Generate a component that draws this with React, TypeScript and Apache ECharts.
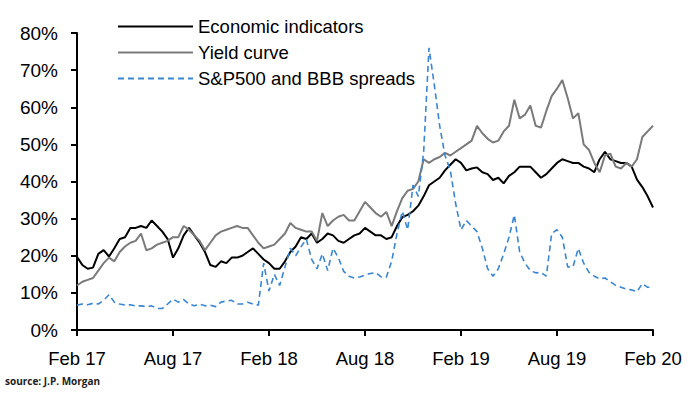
import React, { useEffect, useRef } from "react";
import * as echarts from "echarts";

// Sample dates, three per month (1st, 11th, 21st) from Feb 2017 to Feb 2020
const MONTHS = ["Jan", "Feb", "Mar", "Apr", "May", "Jun", "Jul", "Aug", "Sep", "Oct", "Nov", "Dec"];
const SAMPLE_DAYS = ["01", "11", "21"];
const categories: string[] = [];
for (let i = 0; i <= 108; i++) {
  const m = 1 + Math.floor(i / 3);
  const year = 2017 + Math.floor(m / 12);
  const mm = String((m % 12) + 1).padStart(2, "0");
  categories.push(`${year}-${mm}-${SAMPLE_DAYS[i % 3]}`);
}

const economicIndicators = [
  19.7, 17.5, 16.5, 16.8, 20.5, 21.5, 19.8, 22, 24.5, 25,
  27.5, 27.5, 28, 27.5, 29.5, 28, 26.5, 24.5, 19.5, 22,
  25.5, 27.5, 25.5, 23.5, 21, 17.5, 17, 18.5, 18, 19.5,
  19.5, 20, 21, 22, 20.5, 19, 18, 16.5, 16.5, 18.5,
  21, 22.5, 25, 24.5, 26, 23.5, 24.5, 26, 25.5, 24,
  23.5, 24.5, 25.5, 26, 27.5, 26.5, 25.5, 25.5, 24.5, 25,
  28, 30.4, 31, 32, 33.5, 36, 39, 40, 41, 43,
  44.5, 46, 45, 43, 43.5, 43.8, 42.5, 42, 40.4, 41,
  39.5, 41.5, 42.5, 44, 44, 44, 42.5, 41, 42, 43.5,
  45, 46, 45.5, 45, 45, 44, 43.5, 42.5, 46, 48,
  46, 45.5, 45, 45, 44, 40.5, 38.5, 36, 33,
];

const yieldCurve = [
  12, 13, 13.5, 14, 16, 18, 19.5, 18.5, 21, 22.5,
  23.5, 24, 26, 21.5, 22, 23, 23.5, 24, 25, 25,
  28, 27, 25.5, 24, 21.5, 23.5, 25.5, 26.5, 27, 27.5,
  28, 27.5, 27.5, 25.5, 23.5, 22, 22.5, 23, 24.5, 26,
  28.8, 27.5, 27, 26.5, 26.5, 24, 31.5, 28, 29.5, 30.5,
  31, 29.5, 29.5, 32, 34.5, 33, 31.5, 30.5, 31.8, 28,
  32, 35.5, 37.5, 38, 40, 46, 45, 46, 46.6, 47.7,
  47, 48, 49, 50, 51, 55, 53, 51.5, 50.5, 51,
  53.5, 55, 62, 57, 58, 60.5, 55, 54.5, 59, 63,
  65, 67.3, 62.5, 57, 58.4, 50, 48.5, 45, 42.5, 47,
  47.5, 44, 43.5, 45, 44, 46, 52, 53.5, 55,
];

const spxBbbSpreads = [
  6.7, 7, 6.8, 7.2, 7, 8, 9.5, 7.5, 7, 6.7,
  6.8, 6.5, 6.5, 6.3, 6.5, 5.8, 5.8, 7, 8.3, 7.5,
  8.2, 7, 6.5, 7, 6.5, 6.7, 6.3, 7.5, 7.8, 8,
  7, 7, 7.5, 7, 6.7, 18, 10.5, 15, 12, 17,
  22, 20, 22.4, 24.5, 19, 16.5, 20.5, 16, 22, 19.5,
  15.8, 14.5, 14, 14.3, 14.8, 15.2, 15.5, 14.3, 14.2, 18.5,
  26, 32, 27, 39, 36, 48, 76, 66, 55, 47,
  43, 34, 27, 29.5, 28, 26.5, 22, 16.5, 14.5, 16.5,
  20.5, 25, 31, 21, 18, 16, 15.4, 15.5, 14.5, 26,
  27, 25, 17, 17, 22, 18, 15.5, 14.5, 13.8, 14,
  13, 12, 11.5, 11, 10.8, 10.3, 12.5, 11.5, 11.6,
];

const Y_MIN = 0;
const Y_MAX = 80;
const Y_STEP = 10;

function formatDateLabel(value: string): string {
  const [y, m] = value.split("-");
  return `${MONTHS[parseInt(m, 10) - 1]} ${y.slice(2)}`;
}

export default function App() {
  const ref = useRef<HTMLDivElement>(null);

  useEffect(() => {
    if (!ref.current) return;
    const chart = echarts.init(ref.current, null, { renderer: "svg" });
    const font = "'Liberation Sans', Arial, sans-serif";
    chart.setOption({
      animation: false,
      backgroundColor: "#ffffff",
      textStyle: { fontFamily: font },
      grid: { left: 77, top: 33, width: 576, height: 297 },
      legend: {
        orient: "vertical",
        left: 117,
        top: 17,
        itemWidth: 75,
        itemHeight: 14,
        itemGap: 7,
        padding: 0,
        itemStyle: { opacity: 0 },
        textStyle: { fontSize: 18.5, color: "#000", fontFamily: font },
        data: ["Economic indicators", "Yield curve", "S&P500 and BBB spreads"],
      },
      xAxis: {
        type: "category",
        data: categories,
        boundaryGap: false,
        axisLine: { lineStyle: { color: "#000", width: 2 } },
        axisTick: { show: true, interval: 17, length: 6, lineStyle: { color: "#000", width: 2 } },
        axisLabel: {
          interval: 17,
          margin: 19,
          fontSize: 18.5,
          color: "#000",
          fontFamily: font,
          formatter: formatDateLabel,
        },
        splitLine: { show: false },
      },
      yAxis: {
        type: "value",
        min: Y_MIN,
        max: Y_MAX,
        interval: Y_STEP,
        axisLine: { show: true, lineStyle: { color: "#000", width: 2 } },
        axisTick: { show: true, length: 6, lineStyle: { color: "#000", width: 2 } },
        axisLabel: { margin: 19, fontSize: 19, color: "#000", fontFamily: font, formatter: "{value}%" },
        splitLine: { show: false },
      },
      series: [
        {
          name: "Economic indicators",
          type: "line",
          data: economicIndicators,
          symbol: "none",
          lineStyle: { color: "#000000", width: 2 },
          itemStyle: { color: "#000000" },
        },
        {
          name: "Yield curve",
          type: "line",
          data: yieldCurve,
          symbol: "none",
          lineStyle: { color: "#7a7a7a", width: 2 },
          itemStyle: { color: "#7a7a7a" },
        },
        {
          name: "S&P500 and BBB spreads",
          type: "line",
          data: spxBbbSpreads,
          symbol: "none",
          lineStyle: { color: "#3a86d2", width: 1.6, type: [6, 4] },
          itemStyle: { color: "#3a86d2" },
        },
      ],
      graphic: [
        {
          type: "text",
          left: 5,
          top: 376,
          style: {
            text: "source: J.P. Morgan",
            fill: "#222",
            font: "bold 10px 'Open Sans', sans-serif",
          },
        },
      ],
    });
    return () => chart.dispose();
  }, []);

  return (
    <div
      ref={ref}
      style={{ position: "fixed", left: 0, top: 0, width: 700, height: 394 }}
    />
  );
}
